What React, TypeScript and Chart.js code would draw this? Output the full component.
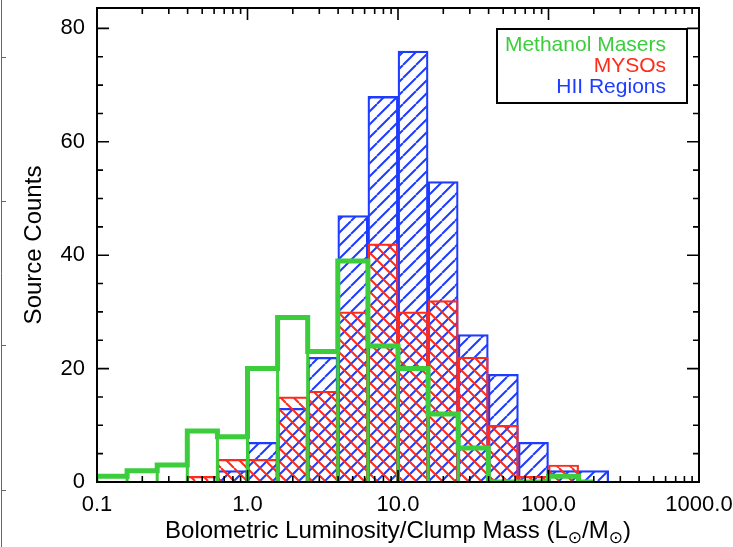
import React, { useEffect, useRef } from "react";
import { Chart, registerables } from "chart.js";

Chart.register(...registerables);

const FONT = "'Liberation Sans', Arial, Helvetica, sans-serif";

// Histogram bin edges (0.2 dex bins)
const binEdges = [0.1, 0.1585, 0.2512, 0.3981, 0.631, 1.0, 1.585, 2.512, 3.981, 6.31, 10.0, 15.85, 25.12, 39.81, 63.1, 100.0, 158.5, 251.2];
// Counts per bin
const maserCounts = [1, 2, 3, 9, 8, 20, 29, 23, 39, 24, 20, 12, 6, 0, 0, 1, 0];
const mysoCounts = [0, 0, 0, 1, 4, 4, 15, 16, 30, 42, 30, 32, 22, 10, 1, 3, 0];
const hiiCounts = [0, 0, 0, 0, 2, 7, 13, 22, 47, 68, 76, 53, 26, 19, 7, 2, 2];
const maserStepEnd = 200;

const xMajorTicks = [0.1, 1, 10, 100, 1000];
const xTickLabels = ["0.1", "1.0", "10.0", "100.0", "1000.0"];
const yMajorTicks = [0, 20, 40, 60, 80];
const yMax = 83.6;

const seriesNames = ["Methanol Masers", "MYSOs", "HII Regions"];
const GREEN = "#3ccd3c";
const RED = "#ff2a1a";
const BLUE = "#1e3cff";
const yTitle = "Source Counts";
const xTitleParts: [string, boolean][] = [
  ["Bolometric Luminosity/Clump Mass (L", false],
  ["\u2299", true],
  ["/M", false],
  ["\u2299", true],
  [")", false],
];

function hatch(color: string, dir: 1 | -1, size = 13, lw = 2) {
  const c = document.createElement("canvas");
  c.width = size;
  c.height = size;
  const g = c.getContext("2d")!;
  g.strokeStyle = color;
  g.lineWidth = lw;
  g.beginPath();
  for (const o of [-size, 0, size]) {
    if (dir === 1) {
      g.moveTo(o, size);
      g.lineTo(o + size, 0);
    } else {
      g.moveTo(o, 0);
      g.lineTo(o + size, size);
    }
  }
  g.stroke();
  return g.createPattern(c, "repeat")!;
}

const decoPlugin = {
  id: "deco",
  afterDatasetsDraw(chart: any) {
    const { ctx, chartArea: a, scales } = chart;
    const xs = scales.x;
    const ys = scales.y;
    ctx.save();
    // stray left edge line
    ctx.strokeStyle = "#666";
    ctx.lineWidth = 1;
    ctx.beginPath();
    ctx.moveTo(1.5, 0);
    ctx.lineTo(1.5, 547);
    for (const yy of [57, 201, 345, 490]) {
      ctx.moveTo(1.5, yy + 0.5);
      ctx.lineTo(6, yy + 0.5);
    }
    ctx.stroke();

    // frame
    ctx.strokeStyle = "#000";
    ctx.lineWidth = 2;
    ctx.strokeRect(a.left, a.top, a.right - a.left, a.bottom - a.top);

    // ticks
    ctx.lineWidth = 1.6;
    ctx.beginPath();
    for (let d = -1; d < 3; d++) {
      for (let k = 1; k < 10; k++) {
        const v = k * Math.pow(10, d);
        const px = xs.getPixelForValue(v);
        const len = k === 1 ? 12 : 6;
        ctx.moveTo(px, a.bottom);
        ctx.lineTo(px, a.bottom - len);
        ctx.moveTo(px, a.top);
        ctx.lineTo(px, a.top + len);
      }
    }
    for (let v = 0; v <= 80; v += 5) {
      const py = ys.getPixelForValue(v);
      const len = v % 20 === 0 ? 12 : 6;
      ctx.moveTo(a.left, py);
      ctx.lineTo(a.left + len, py);
      ctx.moveTo(a.right, py);
      ctx.lineTo(a.right - len, py);
    }
    ctx.stroke();

    // legend box
    const bx = a.right - 202;
    const by = a.top + 21;
    const bw = 190;
    const bh = 74;
    ctx.lineWidth = 2;
    ctx.strokeRect(bx, by, bw, bh);
    ctx.font = `21px ${FONT}`;
    ctx.textAlign = "right";
    ctx.textBaseline = "alphabetic";
    const cols = [GREEN, RED, BLUE];
    seriesNames.forEach((n, i) => {
      ctx.fillStyle = cols[i];
      ctx.fillText(n, bx + 169, by + 22 + i * 21);
    });

    // x title with subscripts
    const mainFont = `24px ${FONT}`;
    const subFont = `17px 'DejaVu Sans', ${FONT}`;
    let total = 0;
    for (const [t, sub] of xTitleParts) {
      ctx.font = sub ? subFont : mainFont;
      total += ctx.measureText(t).width;
    }
    let cx = (a.left + a.right) / 2 - total / 2;
    const base = 538;
    ctx.textAlign = "left";
    ctx.fillStyle = "#000";
    for (const [t, sub] of xTitleParts) {
      ctx.font = sub ? subFont : mainFont;
      ctx.fillText(t, cx, sub ? base + 5 : base);
      cx += ctx.measureText(t).width;
    }
    ctx.restore();
  },
};

export default function App() {
  const ref = useRef<HTMLCanvasElement>(null);
  useEffect(() => {
    const canvas = ref.current!;
    const centers = binEdges.slice(0, -1).map((e, i) => Math.sqrt(e * binEdges[i + 1]));
    const toBars = (counts: number[]) =>
      counts.map((c, i) => ({ x: centers[i], y: c > 0 ? c : null }));
    const maserStep = [
      ...maserCounts.map((c, i) => ({ x: binEdges[i], y: c })),
      { x: maserStepEnd, y: maserCounts[maserCounts.length - 1] },
    ];

    const chart = new Chart(canvas, {
      type: "bar",
      data: {
        datasets: [
          {
            type: "line",
            label: seriesNames[0],
            data: maserStep,
            stepped: "before",
            borderColor: GREEN,
            borderWidth: 5,
            pointRadius: 0,
            fill: false,
            order: 0,
          } as any,
          {
            label: seriesNames[0] + " bars",
            data: toBars(maserCounts),
            backgroundColor: "rgba(0,0,0,0)",
            borderColor: GREEN,
            borderWidth: 1.2,
            grouped: false,
            barPercentage: 1,
            categoryPercentage: 1,
            order: 1,
          } as any,
          {
            label: seriesNames[1],
            data: toBars(mysoCounts),
            backgroundColor: hatch(RED, -1),
            borderColor: RED,
            borderWidth: 1.5,
            grouped: false,
            barPercentage: 1,
            categoryPercentage: 1,
            order: 2,
          } as any,
          {
            label: seriesNames[2],
            data: toBars(hiiCounts),
            backgroundColor: hatch(BLUE, 1),
            borderColor: BLUE,
            borderWidth: 1.6,
            grouped: false,
            barPercentage: 1,
            categoryPercentage: 1,
            order: 3,
          } as any,
        ],
      },
      options: {
        animation: false,
        responsive: false,
        devicePixelRatio: 1,
        layout: { padding: { left: 0, top: 8, right: 81, bottom: 0 } },
        plugins: { legend: { display: false }, tooltip: { enabled: false } },
        scales: {
          x: {
            type: "logarithmic",
            min: 0.1,
            max: 1000,
            grid: { display: false, drawTicks: false },
            border: { display: false },
            afterBuildTicks: (s: any) => {
              s.ticks = xMajorTicks.map((v) => ({ value: v }));
            },
            afterFit: (s: any) => {
              s.height = 65;
              s.paddingLeft = 0;
              s.paddingRight = 0;
            },
            ticks: {
              autoSkip: false,
              maxRotation: 0,
              padding: 10,
              color: "#000",
              font: { family: FONT, size: 22 },
              callback: (_v: any, i: number) => xTickLabels[i],
            },
          },
          y: {
            type: "linear",
            min: 0,
            max: yMax,
            grid: { display: false, drawTicks: false },
            border: { display: false },
            afterBuildTicks: (s: any) => {
              s.ticks = yMajorTicks.map((v) => ({ value: v }));
            },
            afterFit: (s: any) => {
              s.width = 97;
              s.paddingTop = 0;
              s.paddingBottom = 0;
            },
            ticks: {
              padding: 12,
              color: "#000",
              font: { family: FONT, size: 22 },
              callback: (v: any) => String(v),
            },
            title: {
              display: true,
              text: yTitle,
              color: "#000",
              font: { family: FONT, size: 24 },
              padding: { top: 20, bottom: 0 },
            },
          },
        },
      },
      plugins: [decoPlugin],
    });
    return () => chart.destroy();
  }, []);

  return (
    <div
      style={{
        position: "absolute",
        left: 0,
        top: 0,
        width: 733,
        height: 547,
        overflow: "hidden",
        background: "#fff",
      }}
    >
      <canvas ref={ref} width={780} height={547} style={{ width: 780, height: 547, display: "block" }} />
    </div>
  );
}
